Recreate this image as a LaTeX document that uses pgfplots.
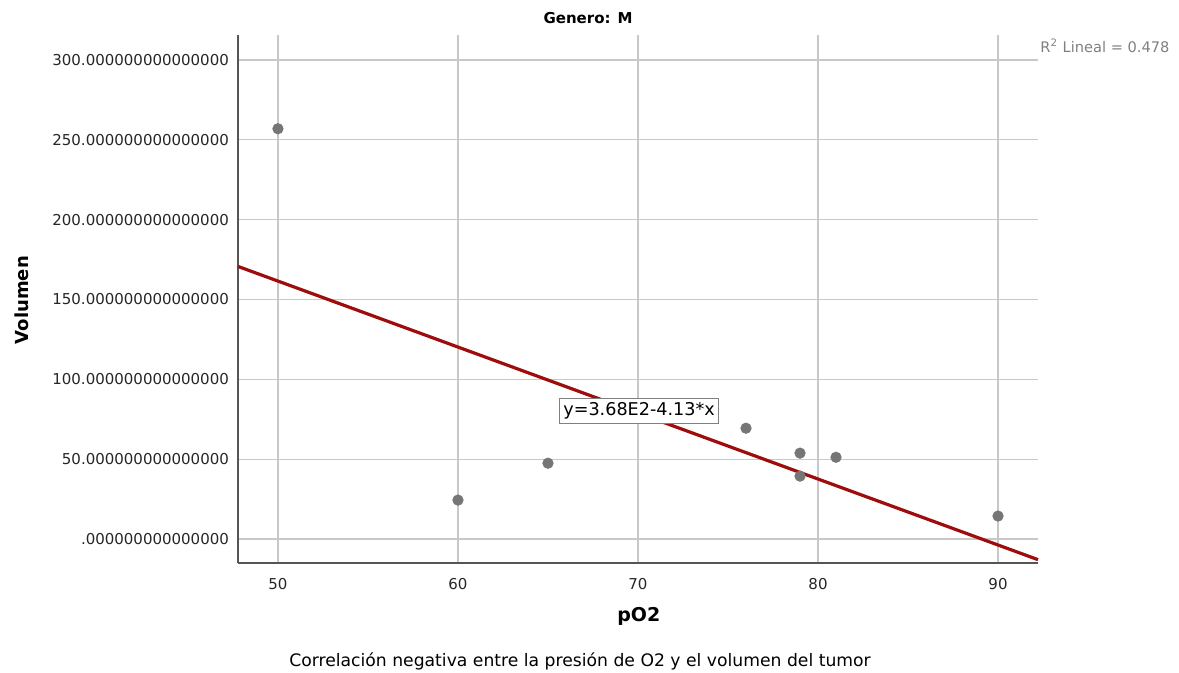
\documentclass[border=0pt]{standalone}
\usepackage{pgfplots}
\pgfplotsset{compat=1.18}
\usepackage{fontspec}
\setmainfont{DejaVu Sans}
\definecolor{ptgray}{RGB}{118,118,118}
\definecolor{fitred}{RGB}{158,12,12}
\definecolor{gridgray}{RGB}{200,200,200}
\definecolor{axgray}{RGB}{85,85,85}
\begin{document}
\begin{tikzpicture}[x=1pt,y=1pt]
\begin{axis}[
  scale only axis,width=400pt,height=264pt,
  xmin=47.78,xmax=92.22,ymin=-15,ymax=315.6,
  axis lines*=left,axis line style={axgray,line width=0.6pt},
  xtick={50,60,70,80,90},
  ytick={0,50,100,150,200,250,300},
  yticklabels={.000000000000000,50.000000000000000,100.000000000000000,150.000000000000000,200.000000000000000,250.000000000000000,300.000000000000000},
  tick style={draw=none},
  grid=major,grid style={gridgray,line width=0.6pt},
  ticklabel style={font=\fontsize{7.5}{9}\selectfont,text=black!85},
  /pgf/number format/assume math mode=true,
  xticklabel style={yshift=-4pt},
  yticklabel style={xshift=-1pt},
  clip=false,
]
\addplot[only marks,mark=*,mark size=2.6pt,ptgray,mark options={draw=ptgray,fill=ptgray}] coordinates {
(50,256.9) (60,24.4) (65,47.5) (76,69.4) (79,53.8) (79,39.4) (81,51.2) (90,14.4)};
\addplot[fitred,line width=1.6pt] coordinates {(47.78,170.7) (92.22,-12.9)};
\node[draw=gray,fill=white,inner sep=2pt,line width=0.5pt,font=\fontsize{8.8}{10}\selectfont] at (axis cs:70.06,80) {y=3.68E2-4.13*x};
\node[font=\bfseries\fontsize{7.5}{9}\selectfont] at (rel axis cs:0.4375,1.032) {Genero: M};
\node[anchor=west,text=gray,font=\fontsize{7.3}{8}\selectfont,inner sep=0pt] at (rel axis cs:1.0025,0.979) {R\textsuperscript{2} Lineal = 0.478};
\node[rotate=90,font=\bfseries\fontsize{9}{10}\selectfont] at (rel axis cs:-0.27,0.498) {Volumen};
\node[font=\bfseries\fontsize{9.5}{10}\selectfont] at (rel axis cs:0.501,-0.1004) {pO2};
\node[font=\fontsize{8.6}{10}\selectfont] at (rel axis cs:0.4275,-0.1856) {Correlación negativa entre la presión de O2 y el volumen del tumor};
\coordinate (bl) at (rel axis cs:-0.2975,-0.2083);
\coordinate (tr) at (rel axis cs:1.17625,1.0663);
\end{axis}
\pgfresetboundingbox
\path[use as bounding box] (bl) rectangle (tr);
\end{tikzpicture}
\end{document}
